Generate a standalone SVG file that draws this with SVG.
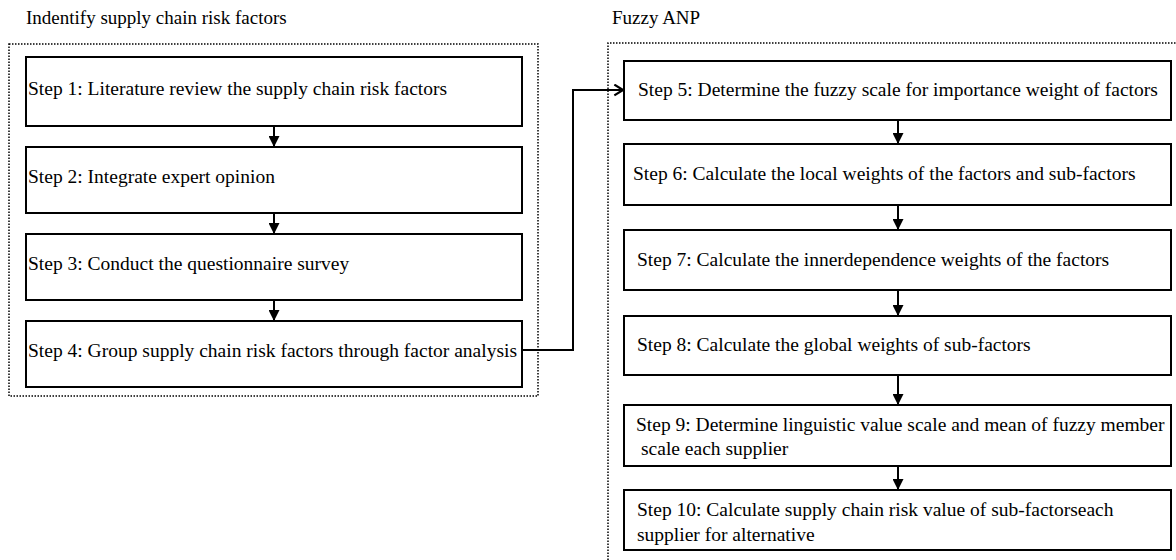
<svg xmlns="http://www.w3.org/2000/svg" width="1176" height="560" viewBox="0 0 1176 560">
<style>
text{font-family:"Liberation Serif","Times New Roman",serif;font-size:19.5px;fill:#000}
.title{font-size:19px}
.box{fill:#fff;stroke:#000;stroke-width:2}
.group{fill:none;stroke:#000;stroke-width:1.5;stroke-dasharray:1.5 1.5}
.conn{fill:none;stroke:#000;stroke-width:2}
</style>
<defs>
<marker id="tri" viewBox="0 0 10 10" refX="10" refY="5" markerWidth="11" markerHeight="11" markerUnits="userSpaceOnUse" orient="auto"><path d="M0,0 L10,5 L0,10 Z" fill="#000"/></marker>
<marker id="open" viewBox="0 0 10 12" refX="9" refY="6" markerWidth="11" markerHeight="13" markerUnits="userSpaceOnUse" orient="auto"><path d="M1,1 L9,6 L1,11" fill="none" stroke="#000" stroke-width="2"/></marker>
</defs>
<g id="groups">
<text class="title" x="26" y="24">Indentify supply chain risk factors</text>
<rect class="group" x="9" y="44" width="529" height="352"/>
<text class="title" x="612" y="24">Fuzzy ANP</text>
<path class="group" d="M608,560 V43 H1180"/>
</g>
<g id="step1"><rect class="box" x="26" y="57" width="496" height="69"/><text x="28" y="95">Step 1: Literature review the supply chain risk factors</text></g>
<g id="step2"><rect class="box" x="26" y="147" width="496" height="66"/><text x="28" y="183">Step 2: Integrate expert opinion</text></g>
<g id="step3"><rect class="box" x="26" y="234" width="496" height="66"/><text x="28" y="270">Step 3: Conduct the questionnaire survey</text></g>
<g id="step4"><rect class="box" x="26" y="321" width="496" height="66"/><text x="28" y="357">Step 4: Group supply chain risk factors through factor analysis</text></g>
<g id="step5"><rect class="box" x="624" y="61" width="547" height="59"/><text x="638" y="96">Step 5: Determine the fuzzy scale for importance weight of factors</text></g>
<g id="step6"><rect class="box" x="624" y="144" width="547" height="61"/><text x="633" y="180">Step 6: Calculate the local weights of the factors and sub-factors</text></g>
<g id="step7"><rect class="box" x="624" y="230" width="547" height="60"/><text x="637" y="266">Step 7: Calculate the innerdependence weights of the factors</text></g>
<g id="step8"><rect class="box" x="624" y="316" width="547" height="59"/><text x="637" y="351">Step 8: Calculate the global weights of sub-factors</text></g>
<g id="step9"><rect class="box" x="624" y="405" width="547" height="61"/><text x="636" y="431">Step 9: Determine linguistic value scale and mean of fuzzy member</text><text x="641" y="455">scale each supplier</text></g>
<g id="step10"><rect class="box" x="624" y="490" width="547" height="60"/><text x="637" y="516">Step 10: Calculate supply chain risk value of sub-factorseach</text><text x="637" y="541">supplier for alternative</text></g>
<g id="connectors">
<line class="conn" x1="274" y1="126" x2="274" y2="147" marker-end="url(#tri)"/>
<line class="conn" x1="274" y1="213" x2="274" y2="234" marker-end="url(#tri)"/>
<line class="conn" x1="274" y1="300" x2="274" y2="321" marker-end="url(#tri)"/>
<path class="conn" d="M522,350 H573 V90 H623" marker-end="url(#open)"/>
<line class="conn" x1="898" y1="120" x2="898" y2="144" marker-end="url(#tri)"/>
<line class="conn" x1="898" y1="205" x2="898" y2="230" marker-end="url(#tri)"/>
<line class="conn" x1="898" y1="290" x2="898" y2="316" marker-end="url(#tri)"/>
<line class="conn" x1="898" y1="375" x2="898" y2="405" marker-end="url(#tri)"/>
<line class="conn" x1="898" y1="466" x2="898" y2="490" marker-end="url(#tri)"/>
</g>
</svg>
